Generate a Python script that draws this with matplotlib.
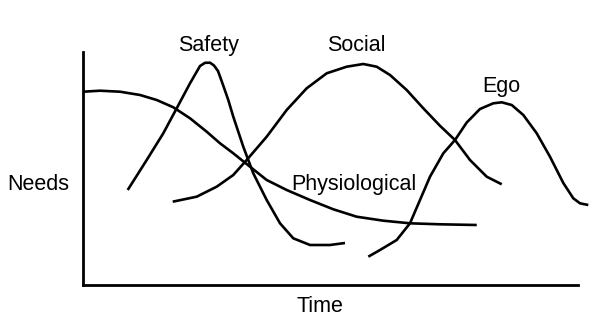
import matplotlib
matplotlib.use("Agg")
import matplotlib.pyplot as plt

# Data (time 0-100, needs level 0-100)
phys_t = [0.06, 3.43, 7.47, 11.52, 14.89, 18.24, 21.62, 24.99, 27.68, 30.36,
          33.74, 37.11, 41.15, 45.86, 50.57, 55.29, 60.67, 66.06, 72.12, 79.54]
phys_n = [82.96, 83.39, 82.96, 81.55, 79.40, 76.27, 71.55, 65.79, 60.82, 56.52,
          50.77, 45.06, 40.77, 36.48, 32.49, 29.31, 27.60, 26.48, 26.05, 25.75]

safety_t = [9.03, 12.87, 16.22, 18.93, 21.62, 23.64, 24.65, 25.66, 26.46, 27.27, 28.08,
            29.35, 30.36, 32.38, 34.40, 37.11, 39.80, 42.48, 45.86, 49.90, 52.93]
safety_n = [40.77, 53.65, 65.11, 75.84, 86.57, 93.99, 95.36, 95.41, 94.21, 91.85, 87.12,
            79.40, 72.23, 59.36, 47.94, 36.48, 26.48, 20.04, 17.17, 17.17, 18.03]

social_t = [18.12, 22.97, 27.01, 30.36, 33.07, 37.11, 41.15, 45.19, 49.23, 53.27,
            56.63, 59.33, 62.02, 65.39, 68.75, 72.12, 75.15, 78.18, 81.56, 84.59]
social_n = [35.75, 37.90, 42.19, 47.21, 53.65, 63.65, 75.11, 84.42, 90.86, 93.69,
            94.85, 93.69, 90.13, 83.69, 75.84, 68.33, 62.23, 53.65, 46.48, 43.22]

ego_t = [57.64, 60.00, 63.37, 66.06, 68.08, 70.10, 72.79, 75.15, 77.52, 80.20,
         82.89, 84.59, 86.61, 88.95, 91.66, 94.34, 97.03, 99.05, 100.40, 102.08]
ego_n = [12.15, 15.02, 19.31, 26.48, 36.48, 46.48, 56.52, 62.23, 69.74, 75.54,
         77.98, 78.41, 77.25, 72.96, 65.11, 55.06, 43.78, 37.21, 35.06, 34.33]

labels = ["Physiological", "Safety", "Social", "Ego"]
label_pos = [(54.7, 43.3), (25.3, 102.6), (55.2, 102.6), (84.6, 85.4)]

plt.rcParams['font.family'] = ['Liberation Sans', 'DejaVu Sans']

fig = plt.figure(figsize=(6.05, 3.34), dpi=100)
ax = fig.add_axes([83/605, 1 - 285/334, (578 - 83)/605, (285 - 52)/334])
ax.set_xlim(0, 100)
ax.set_ylim(0, 100)

lw = 1.9
for t, n in [(phys_t, phys_n), (safety_t, safety_n), (social_t, social_n), (ego_t, ego_n)]:
    ax.plot(t, n, color='black', lw=lw, clip_on=False,
            solid_joinstyle='round', solid_capstyle='butt')

for lab, (x, y) in zip(labels, label_pos):
    ax.text(x, y, lab, ha='center', va='center', fontsize=15.5, clip_on=False)

for s in ['top', 'right']:
    ax.spines[s].set_visible(False)
for s in ['left', 'bottom']:
    ax.spines[s].set_linewidth(2.0)
ax.set_xticks([])
ax.set_yticks([])

fig.text(38/605, 1 - 185/334, "Needs", ha='center', va='center', fontsize=15.5)
fig.text(320/605, 1 - 306/334, "Time", ha='center', va='center', fontsize=15.5)

fig.savefig("out.png", dpi=100)
